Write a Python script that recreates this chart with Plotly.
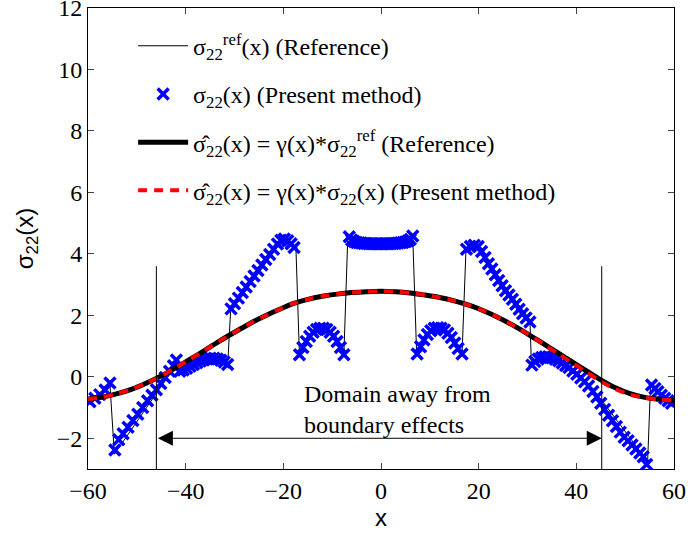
import plotly.graph_objects as go

# ---------------- data ----------------
# sigma_22 (present method) markers
present_x = [-59.6, -58.6, -57.6, -56.5, -55.5,
             -54.5, -53.7, -52.8, -51.8, -50.8, -49.8, -48.8, -47.8, -46.9, -46.0, -45.1, -44.2, -43.3, -42.5, -41.9,
             -41.2, -40.5, -39.8, -39.1, -38.4, -37.7, -37.0, -36.3, -35.6, -34.9, -34.2, -33.5, -32.8, -32.1, -31.4,
             -30.7, -30.0, -29.2, -28.4, -27.6, -26.8, -26.0, -25.2, -24.4, -23.6, -22.8, -22.0, -21.2, -20.5, -19.8, -19.1, -18.4, -17.8,
             -16.7, -16.0, -15.3, -14.6, -13.9, -13.2, -12.5, -11.8, -11.1, -10.4, -9.7, -9.0, -8.3, -7.6,
             -6.5, -6.0, -5.5, -5.0, -4.5, -4.0, -3.5, -3.0, -2.5, -2.0, -1.5, -1.0, -0.5, 0.0, 0.5, 1.0, 1.5, 2.0, 2.5, 3.0, 3.5, 4.0, 4.5, 5.0, 5.5, 6.0, 6.5,
             7.4, 8.1, 8.8, 9.5, 10.2, 10.9, 11.6, 12.3, 13.0, 13.7, 14.4, 15.1, 15.8, 16.6,
             17.5, 18.3, 19.1, 19.9, 20.6, 21.3, 22.0, 22.7, 23.4, 24.1, 24.8, 25.5, 26.2, 26.9, 27.6, 28.3, 29.0, 29.7, 30.5,
             30.9, 31.5, 32.2, 32.9, 33.6, 34.3, 35.0, 35.7, 36.4, 37.1, 37.8, 38.5, 39.3, 40.1, 40.9, 41.7, 42.5, 43.4, 44.2,
             45.0, 45.8, 46.6, 47.4, 48.2, 49.0, 49.8, 50.6, 51.4, 52.2, 53.0, 53.7, 54.4,
             55.4, 56.1, 56.7, 57.4, 58.1, 58.8, 59.5]
present_y = [-0.81, -0.70, -0.58, -0.43, -0.20,
             -2.38, -2.05, -1.85, -1.64, -1.42, -1.22, -1.00, -0.78, -0.60, -0.42, -0.22, -0.02, 0.18, 0.36, 0.55,
             0.18, 0.22, 0.28, 0.34, 0.40, 0.46, 0.51, 0.55, 0.58, 0.60, 0.60, 0.58, 0.54, 0.48, 0.40,
             2.21, 2.38, 2.56, 2.74, 2.92, 3.10, 3.28, 3.46, 3.64, 3.82, 3.98, 4.15, 4.32, 4.44, 4.48, 4.43, 4.33, 4.21,
             0.72, 0.95, 1.15, 1.32, 1.45, 1.54, 1.58, 1.58, 1.54, 1.45, 1.32, 1.15, 0.95, 0.72,
             4.56, 4.45, 4.40, 4.37, 4.36, 4.35, 4.34, 4.34, 4.33, 4.33, 4.33, 4.33, 4.33, 4.33, 4.33, 4.33, 4.33, 4.33, 4.34, 4.34, 4.35, 4.36, 4.37, 4.39, 4.42, 4.47, 4.58,
             0.74, 0.98, 1.20, 1.38, 1.50, 1.58, 1.60, 1.58, 1.52, 1.42, 1.28, 1.10, 0.92, 0.74,
             4.15, 4.24, 4.28, 4.24, 4.08, 3.88, 3.68, 3.51, 3.32, 3.13, 2.96, 2.80, 2.66, 2.52, 2.36, 2.20, 2.05, 1.91, 1.78,
             0.38, 0.50, 0.58, 0.63, 0.65, 0.65, 0.62, 0.57, 0.52, 0.45, 0.37, 0.30, 0.19, 0.08, -0.04, -0.16, -0.30, -0.48, -0.66,
             -0.86, -1.06, -1.25, -1.43, -1.62, -1.80, -1.97, -2.08, -2.22, -2.35, -2.48, -2.60, -2.85,
             -0.27, -0.38, -0.49, -0.60, -0.70, -0.78, -0.86]

# sigma_22 reference (thin line)
ref_x = [-60, -59.6, -58.6, -57.6, -56.5, -55.5, -54.6, -48, -42, -41.2, -39.8, -38.4, -37, -35.6, -34.2, -32.8, -31.4,
         -30.8, -25.2, -20.5, -19.8, -19.1, -17.8, -17.4, -16.7, -15.3, -13.9, -12.5, -11.8, -10.4, -9.0, -7.6,
         -6.8, -6.0, -5, -3, 0, 3, 5, 6.0, 6.5, 7.3, 8.8, 10.2, 11.6, 13.0, 14.4, 15.8, 16.6,
         17.4, 18.3, 19.1, 19.9, 20.6, 25.5, 30.5, 30.8, 31.5, 32.9, 34.3, 35.7, 37.1, 38.5, 45, 54.6,
         55.2, 56.7, 58.1, 59.5, 60]
ref_y = [-0.86, -0.82, -0.71, -0.59, -0.44, -0.26, -2.52, -1.00, 0.38, 0.16, 0.27, 0.39, 0.50, 0.57, 0.59, 0.53, 0.38,
         2.12, 3.36, 4.38, 4.44, 4.40, 4.20, 4.08, 0.70, 1.13, 1.43, 1.57, 1.57, 1.44, 1.14, 0.72,
         4.55, 4.44, 4.36, 4.33, 4.32, 4.33, 4.38, 4.46, 4.57, 0.74, 1.19, 1.49, 1.59, 1.51, 1.27, 0.92, 0.74,
         4.13, 4.24, 4.28, 4.25, 4.12, 2.90, 1.86, 0.38, 0.49, 0.62, 0.64, 0.57, 0.46, 0.32, -0.72, -2.75,
         -0.27, -0.48, -0.69, -0.85, -0.88]

# hat sigma_22 = gamma * sigma (smooth curves)
hat_x = [-60, -57, -54, -51, -48, -45, -42, -39, -36, -33, -30, -27, -24, -21, -18, -15, -12, -9, -6, -3, 0,
         3, 6, 9, 12, 15, 18, 21, 24, 27, 30, 33, 36, 39, 42, 45, 48, 51, 54, 57, 60]
hat_ref_y = [-0.72, -0.66, -0.55, -0.40, -0.20, 0.03, 0.30, 0.58, 0.87, 1.17, 1.45, 1.72, 1.96, 2.18, 2.38, 2.52, 2.62, 2.69, 2.74, 2.77, 2.78,
             2.77, 2.73, 2.66, 2.58, 2.47, 2.33, 2.15, 1.93, 1.68, 1.40, 1.10, 0.80, 0.50, 0.20, -0.10, -0.36, -0.55, -0.67, -0.73, -0.76]
hat_present_y = [-0.72, -0.66, -0.55, -0.40, -0.20, 0.03, 0.30, 0.58, 0.87, 1.17, 1.45, 1.72, 1.96, 2.18, 2.38, 2.52, 2.62, 2.69, 2.74, 2.77, 2.78,
                 2.77, 2.73, 2.66, 2.58, 2.47, 2.33, 2.15, 1.93, 1.68, 1.40, 1.09, 0.78, 0.47, 0.16, -0.15, -0.40, -0.58, -0.68, -0.74, -0.77]

# domain away from boundary effects
boundary_x = [-46.0, 45.2]
boundary_y = [-3.0, 3.6]
arrow_y = -2.0
domain_text = "Domain away from<br>boundary effects"
domain_text_pos = (3.3, -1.05)

x_ticks = [-60, -40, -20, 0, 20, 40, 60]
y_ticks = [-2, 0, 2, 4, 6, 8, 10, 12]

SERIF = "Liberation Serif"
SANS = "Liberation Sans"

fig = go.Figure()

fig.add_trace(go.Scatter(
    x=ref_x, y=ref_y, mode="lines", line=dict(color="black", width=1),
    name="σ<sub>22</sub><sup>ref</sup>(x) (Reference)", legendgroup="a"))
fig.add_trace(go.Scatter(
    x=present_x, y=present_y, mode="markers",
    marker=dict(symbol="x-thin", size=11, color="blue", line=dict(width=3.5, color="blue")),
    name="σ<sub>22</sub>(x) (Present method)", legendgroup="b"))
fig.add_trace(go.Scatter(
    x=hat_x, y=hat_ref_y, mode="lines", line=dict(color="black", width=5, shape="spline", smoothing=0.8),
    name="σ\u0302<sub>22</sub>(x) = γ(x)*σ<sub>22</sub><sup>ref</sup> (Reference)", legendgroup="c"))
fig.add_trace(go.Scatter(
    x=hat_x, y=hat_present_y, mode="lines",
    line=dict(color="red", width=4, dash="9px,7px", shape="spline", smoothing=0.8),
    name="σ\u0302<sub>22</sub>(x) = γ(x)*σ<sub>22</sub>(x) (Present method)", legendgroup="d"))

# boundary vertical lines
for bx in boundary_x:
    fig.add_trace(go.Scatter(x=[bx, bx], y=boundary_y, mode="lines",
                             line=dict(color="black", width=1), showlegend=False, hoverinfo="skip"))

# double arrow
fig.add_annotation(x=boundary_x[1], y=arrow_y, ax=boundary_x[0], ay=arrow_y,
                   xref="x", yref="y", axref="x", ayref="y", text="",
                   showarrow=True, arrowside="end+start", arrowhead=2, arrowsize=3,
                   arrowwidth=1, arrowcolor="black", standoff=0, startstandoff=0)
fig.add_annotation(x=domain_text_pos[0], y=domain_text_pos[1], xref="x", yref="y",
                   text=domain_text, showarrow=False, align="left",
                   font=dict(family=SERIF, size=24, color="black"))

fig.update_layout(
    width=688, height=534,
    margin=dict(l=88, r=14, t=8, b=65),
    paper_bgcolor="white", plot_bgcolor="white",
    font=dict(family=SERIF, size=24, color="black"),
    legend=dict(x=0.077, y=0.966, xanchor="left", yanchor="top",
                bgcolor="rgba(0,0,0,0)", borderwidth=0,
                itemwidth=50, tracegroupgap=14,
                font=dict(family=SERIF, size=24, color="black")),
    showlegend=True,
)
fig.update_xaxes(range=[-60, 60], tickvals=x_ticks, ticks="inside", ticklen=6,
                 showline=True, linecolor="black", linewidth=1, mirror="ticks",
                 showgrid=False, zeroline=False, automargin=False, ticklabeloverflow="allow",
                 title=dict(text="x", font=dict(family=SANS, size=24), standoff=4))
fig.update_yaxes(range=[-3, 12], tickvals=y_ticks, ticks="inside", ticklen=6,
                 showline=True, linecolor="black", linewidth=1, mirror="ticks",
                 showgrid=False, zeroline=False, automargin=False, ticklabeloverflow="allow",
                 title=dict(text="σ<sub>22</sub>(x)", font=dict(family=SANS, size=24), standoff=16))

fig.write_html("out.html", config={"displayModeBar": False},
               post_script="document.body.style.margin='0px';")
